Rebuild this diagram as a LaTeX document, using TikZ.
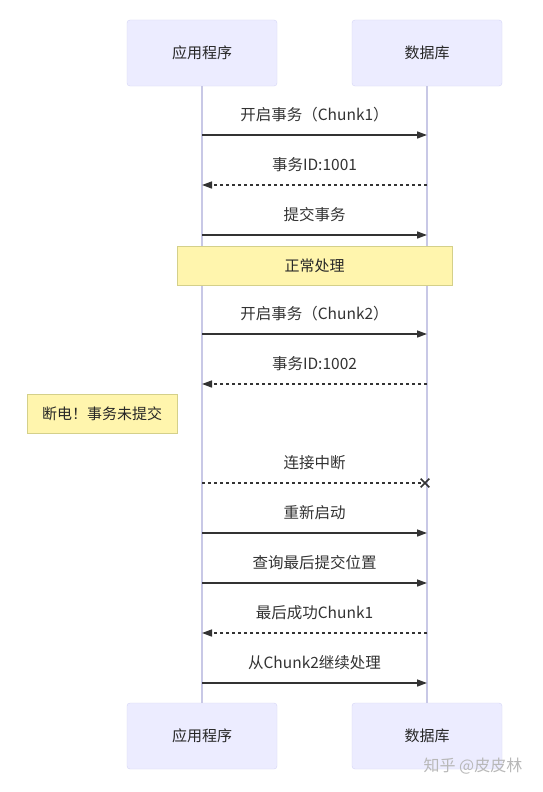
\documentclass[tikz,border=0pt]{standalone}
\usepackage{fontspec}
\setmainfont{Noto Sans CJK SC}
\usetikzlibrary{arrows.meta,shapes.misc}
\definecolor{actfill}{HTML}{ECECFF}
\definecolor{actline}{HTML}{D6D6F5}
\definecolor{lifeline}{HTML}{C8C8E6}
\definecolor{notefill}{HTML}{FFF5AD}
\definecolor{noteline}{HTML}{D4D08A}
\definecolor{msgline}{HTML}{333333}
\tikzset{
  actor/.style={draw=actline, fill=actfill, rounded corners=3pt, minimum width=150pt,
    minimum height=66pt, font=\fontsize{15}{17}\selectfont, text=black!85},
  note/.style={draw=noteline, fill=notefill, minimum height=39pt,
    font=\fontsize{15}{17}\selectfont, text=black!85},
  life/.style={draw=lifeline, line width=1.2pt},
  msg/.style={draw=msgline, line width=1.5pt, -{Triangle[length=10pt,width=7pt]}},
  reply/.style={msg, dash pattern=on 3pt off 3pt},
  lost/.style={draw=msgline, line width=1.5pt, dash pattern=on 3pt off 3pt},
  lbl/.style={midway, yshift=20pt, font=\fontsize{15.5}{18}\selectfont, text=black!80},
}
\begin{document}
\begin{tikzpicture}[x=1pt,y=-1pt]
\useasboundingbox (0,0) rectangle (542,792);
\fill[white] (0,0) rectangle (542,792);

% actors
\node[actor] (app)  at (202,53)  {应用程序};
\node[actor] (db)   at (427,53)  {数据库};
\node[actor] (appb) at (202,736) {应用程序};
\node[actor] (dbb)  at (427,736) {数据库};
\draw[life] (app.south) -- (appb.north);
\draw[life] (db.south) -- (dbb.north);

% messages
\coordinate (a1) at (202,135); \coordinate (d1) at (427,135);
\coordinate (a2) at (202,185); \coordinate (d2) at (427,185);
\coordinate (a3) at (202,235); \coordinate (d3) at (427,235);
\coordinate (a4) at (202,334); \coordinate (d4) at (427,334);
\coordinate (a5) at (202,384); \coordinate (d5) at (427,384);
\coordinate (a6) at (202,483); \coordinate (d6) at (425,483);
\coordinate (a7) at (202,533); \coordinate (d7) at (427,533);
\coordinate (a8) at (202,583); \coordinate (d8) at (427,583);
\coordinate (a9) at (202,633); \coordinate (d9) at (427,633);
\coordinate (a10) at (202,683); \coordinate (d10) at (427,683);

\draw[msg] (a1) -- node[lbl] {开启事务（Chunk1）} (d1);
\draw[reply] (d2) -- node[lbl] {事务ID:1001} (a2);
\draw[msg] (a3) -- node[lbl] {提交事务} (d3);
\node[note, minimum width=275pt] (ok) at (314.5,265.5) {正常处理};
\draw[msg] (a4) -- node[lbl] {开启事务（Chunk2）} (d4);
\draw[reply] (d5) -- node[lbl] {事务ID:1002} (a5);
\node[note, minimum width=150pt] (cut) at (102,414) {断电！事务未提交};
\draw[lost] (a6) -- node[lbl, xshift=1pt] {连接中断} (d6);
\node[cross out, draw=msgline, line width=1.6pt, minimum size=7pt, inner sep=0pt] (x6) at (d6) {};
\draw[msg] (a7) -- node[lbl] {重新启动} (d7);
\draw[msg] (a8) -- node[lbl] {查询最后提交位置} (d8);
\draw[reply] (d9) -- node[lbl] {最后成功Chunk1} (a9);
\draw[msg] (a10) -- node[lbl] {从Chunk2继续处理} (d10);

% watermark
\node[text=black!28, font=\fontsize{16}{18}\selectfont] (mark) at (473,766) {知乎 @皮皮林};
\end{tikzpicture}
\end{document}
